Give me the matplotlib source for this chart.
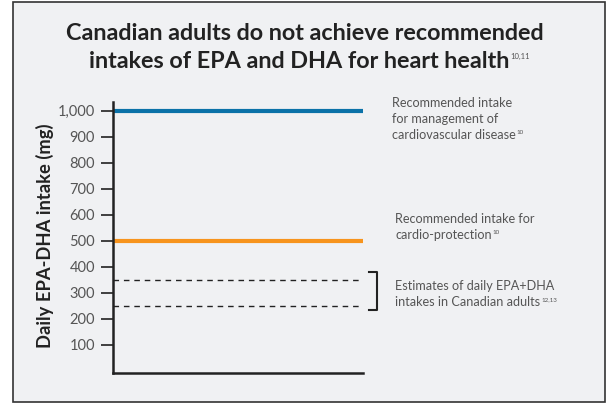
import matplotlib
matplotlib.use("Agg")
import matplotlib.pyplot as plt
from matplotlib.patches import Rectangle

plt.rcParams['font.family'] = ['Lato', 'DejaVu Sans']

# data (mg/day)
cvd_intake = 1000
cardio_intake = 500
canadian_estimates = [250, 350]
bracket_range = [235, 380]
yticks = [100, 200, 300, 400, 500, 600, 700, 800, 900, 1000]
ytick_labels = ['100', '200', '300', '400', '500', '600', '700', '800', '900', '1,000']

blue = '#0b72a8'
orange = '#f7941d'
grey = '#555555'
dark = '#222222'

fig = plt.figure(figsize=(6.1, 4.04), dpi=100)
fig.patch.set_facecolor('white')
fig.patches.append(Rectangle((13 / 610, 2 / 404), 592 / 610, 400 / 404,
                             transform=fig.transFigure, facecolor='#f0f1f3',
                             edgecolor='#333333', lw=1.2, zorder=-5))

ax = fig.add_axes([113 / 610, 31 / 404, 250 / 610, 271 / 404])
ax.set_facecolor('none')
ax.set_xlim(0, 1)
ax.set_ylim(-8, 1033)

ax.hlines(cvd_intake, 0, 1, color=blue, lw=3)
ax.hlines(cardio_intake, 0, 1, color=orange, lw=3)
for v in canadian_estimates:
    ax.hlines(v, 0, 0.99, color=dark, lw=1, linestyles=(0, (4, 3.5)))

# bracket
bx = 1.056
ax.plot([bx - 0.032, bx, bx, bx - 0.032],
        [bracket_range[0], bracket_range[0], bracket_range[1], bracket_range[1]],
        color=dark, lw=1.5, clip_on=False)

ax.spines['top'].set_visible(False)
ax.spines['right'].set_visible(False)
for s in ['left', 'bottom']:
    ax.spines[s].set_linewidth(1.8)
    ax.spines[s].set_color(dark)
ax.set_xticks([])
ax.set_yticks(yticks)
ax.set_yticklabels(ytick_labels)
ax.tick_params(axis='y', length=9, width=1.2, color=dark, labelcolor=grey,
               labelsize=10.5, pad=4)

fig.text(45 / 610, 0.416, 'Daily EPA-DHA intake (mg)', rotation=90,
         ha='center', va='center', fontsize=13.2, fontweight='bold', color=dark)

# title
t1 = fig.text(0.5, 1 - 33 / 404, 'Canadian adults do not achieve recommended',
              ha='center', va='center', fontsize=16.8, fontweight='bold', color=dark)
t2 = fig.text(0.49, 1 - 62 / 404, 'intakes of EPA and DHA for heart health',
              ha='center', va='center', fontsize=16.8, fontweight='bold', color=dark)

# annotations
def note(x, y, lines, sup):
    texts = []
    for i, line in enumerate(lines):
        texts.append(fig.text(x / 610, 1 - (y + 16 * i) / 404, line,
                              ha='left', va='center', fontsize=9.1, color=grey))
    return texts[-1], sup

sups = [(t2, '10,11', 5.5)]
sups.append(note(392, 103, ['Recommended intake', 'for management of',
                            'cardiovascular disease'], '10') + (4.5,))
sups.append(note(395, 219, ['Recommended intake for', 'cardio-protection'], '10') + (4.5,))
sups.append(note(395, 286, ['Estimates of daily EPA+DHA',
                            'intakes in Canadian adults'], '12,13') + (4.5,))

fig.canvas.draw()
r = fig.canvas.get_renderer()
for t, s, size in sups:
    bb = t.get_window_extent(r)
    fig.text((bb.x1 + 1) / 610, (bb.y1 - 1) / 404, s, ha='left', va='top',
             fontsize=size, color=grey)

fig.savefig('out.png', dpi=100, facecolor=fig.get_facecolor())
